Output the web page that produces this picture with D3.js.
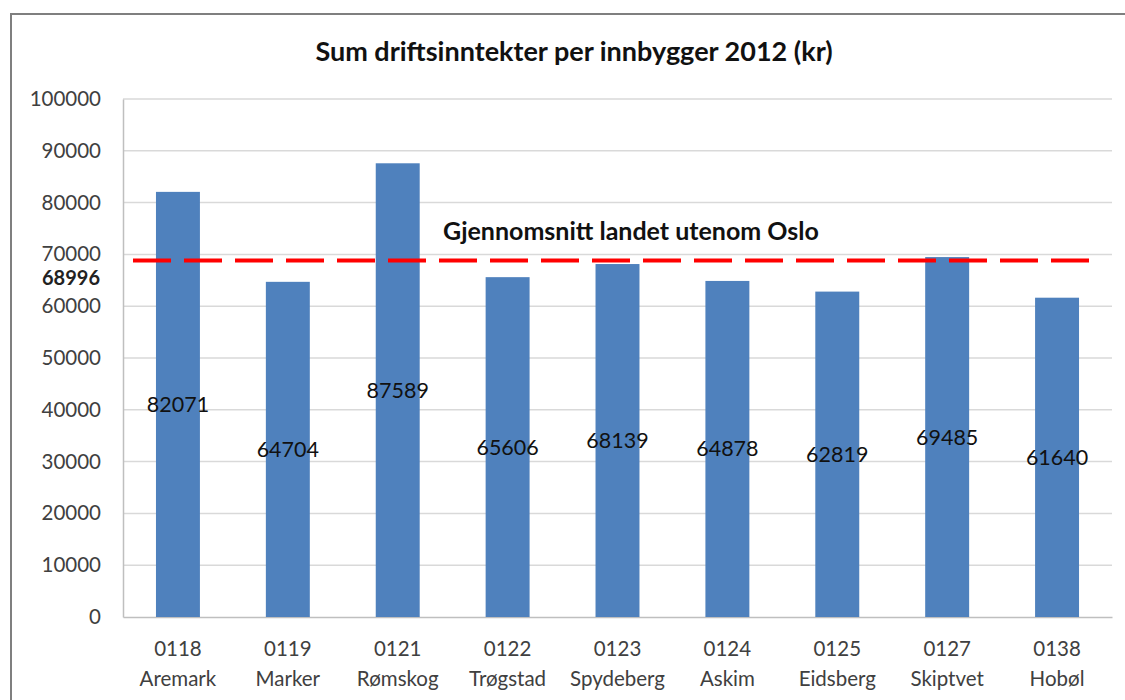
<!DOCTYPE html>
<html>
<head>
<meta charset="utf-8">
<script src="https://cdn.jsdelivr.net/npm/d3@7"></script>
<style>
	body { margin: 0; background: #fff; }
	text { font-family: Lato, "Open Sans", sans-serif; }
</style>
</head>
<body>
<script>
(function () {
	//chart data
	var codes = ["0118", "0119", "0121", "0122", "0123", "0124", "0125", "0127", "0138"];
	var names = ["Aremark", "Marker", "Rømskog", "Trøgstad", "Spydeberg", "Askim", "Eidsberg", "Skiptvet", "Hobøl"];
	var values = [82071, 64704, 87589, 65606, 68139, 64878, 62819, 69485, 61640];
	var average = 68996;
	var yTicks = [0, 10000, 20000, 30000, 40000, 50000, 60000, 70000, 80000, 90000, 100000];

	var width = 1125, height = 700;
	var margin = { top: 99, right: 13, bottom: 83, left: 123 };

	var svg = d3.select("body").append("svg")
		.attr("width", width)
		.attr("height", height);

	//outer frame
	svg.append("path")
		.attr("d", "M11,700 L11,14 L1125,14")
		.attr("fill", "none")
		.attr("stroke", "#7f7f7f")
		.attr("stroke-width", 2);

	var x = d3.scaleBand()
		.domain(codes)
		.range([margin.left, width - margin.right])
		.paddingInner(0.6)
		.paddingOuter(0.3);

	var y = d3.scaleLinear()
		.domain([0, 100000])
		.range([height - margin.bottom, margin.top]);

	//gridlines
	svg.append("g").selectAll("line")
		.data(yTicks.slice(1))
		.enter().append("line")
		.attr("x1", margin.left)
		.attr("x2", width - margin.right)
		.attr("y1", function (d) { return y(d); })
		.attr("y2", function (d) { return y(d); })
		.attr("stroke", "#d9d9d9")
		.attr("stroke-width", 1.5);

	//y axis
	var yAxis = svg.append("g")
		.attr("transform", "translate(" + margin.left + ",0)")
		.call(d3.axisLeft(y).tickValues(yTicks).tickSize(0).tickPadding(22).tickFormat(d3.format("d")));
	yAxis.select(".domain").attr("stroke", "#bfbfbf").attr("stroke-width", 1.5);
	yAxis.selectAll("text").attr("font-size", 20.5).attr("fill", "#404040");

	//x axis
	var xAxis = svg.append("g")
		.attr("transform", "translate(0," + y(0) + ")")
		.call(d3.axisBottom(x).tickSize(0).tickFormat(""));
	xAxis.select(".domain").attr("stroke", "#bfbfbf").attr("stroke-width", 1.5);

	var xLabels = svg.append("g").selectAll("text")
		.data(codes)
		.enter().append("text")
		.attr("x", function (d) { return x(d) + x.bandwidth() / 2; })
		.attr("y", y(0) + 39)
		.attr("text-anchor", "middle")
		.attr("font-size", 20.5)
		.attr("fill", "#404040");
	xLabels.append("tspan").text(function (d) { return d; });
	xLabels.append("tspan")
		.attr("x", function (d) { return x(d) + x.bandwidth() / 2; })
		.attr("dy", 30)
		.text(function (d, i) { return names[i]; });

	//bars
	svg.append("g").selectAll("rect")
		.data(values)
		.enter().append("rect")
		.attr("x", function (d, i) { return x(codes[i]); })
		.attr("y", function (d) { return y(d); })
		.attr("width", x.bandwidth())
		.attr("height", function (d) { return y(0) - y(d); })
		.attr("fill", "#4f81bd");

	//value labels in the middle of bars
	svg.append("g").selectAll("text")
		.data(values)
		.enter().append("text")
		.attr("x", function (d, i) { return x(codes[i]) + x.bandwidth() / 2; })
		.attr("y", function (d) { return y(d / 2); })
		.attr("dy", "0.35em")
		.attr("text-anchor", "middle")
		.attr("font-size", 21.5)
		.attr("fill", "#111")
		.text(function (d) { return d; });

	//average line
	svg.append("line")
		.attr("x1", margin.left + 10)
		.attr("x2", 1092)
		.attr("y1", y(average) + 1)
		.attr("y2", y(average) + 1)
		.attr("stroke", "#ff0000")
		.attr("stroke-width", 4)
		.attr("stroke-dasharray", "38,13");

	svg.append("text")
		.attr("x", 100)
		.attr("y", y(average) + 18)
		.attr("dy", "0.35em")
		.attr("text-anchor", "end")
		.attr("font-size", 20)
		.attr("font-weight", "bold")
		.attr("fill", "#222")
		.text(average);

	svg.append("text")
		.attr("x", 631)
		.attr("y", y(average) - 28)
		.attr("dy", "0.35em")
		.attr("text-anchor", "middle")
		.attr("font-size", 25)
		.attr("font-weight", "bold")
		.attr("fill", "#111")
		.text("Gjennomsnitt landet utenom Oslo");

	//title
	svg.append("text")
		.attr("x", 574)
		.attr("y", 52)
		.attr("dy", "0.35em")
		.attr("text-anchor", "middle")
		.attr("font-size", 27)
		.attr("font-weight", "bold")
		.attr("fill", "#111")
		.text("Sum driftsinntekter per innbygger 2012 (kr)");
})();
</script>
</body>
</html>
